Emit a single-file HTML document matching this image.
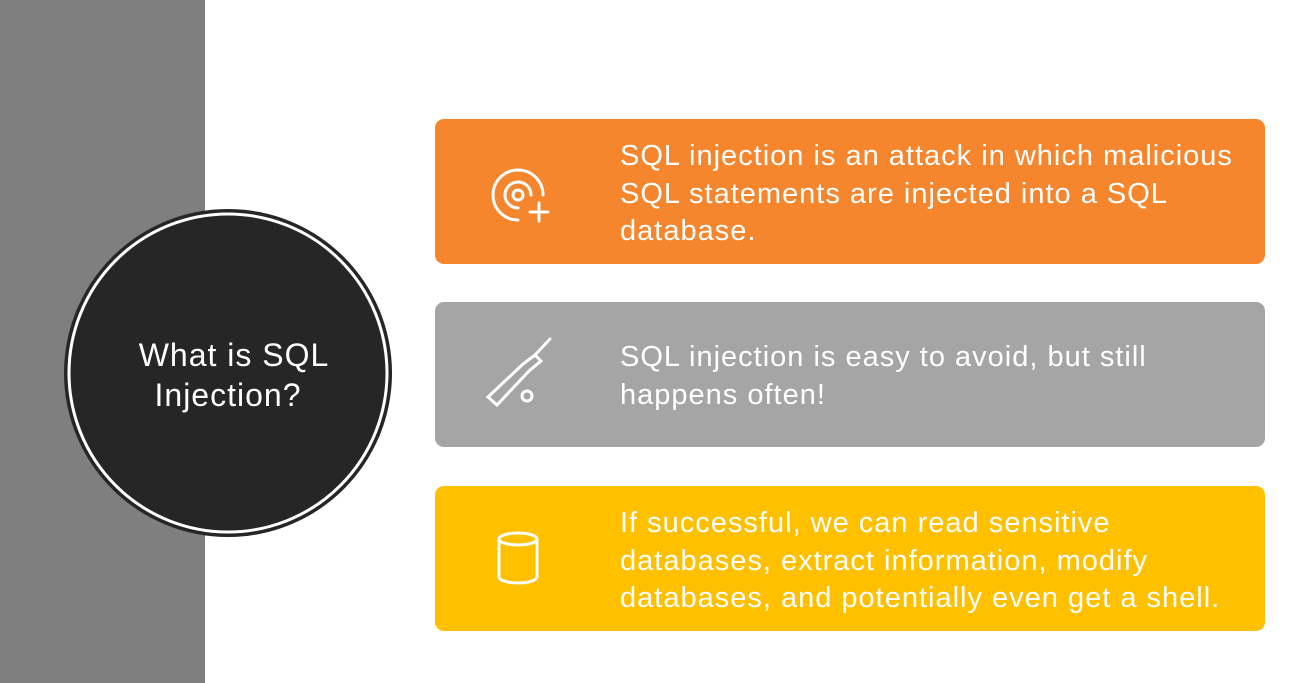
<!DOCTYPE html>
<html><head><style>
body{margin:0;width:1306px;height:683px;background:#fff;position:relative;overflow:hidden;font-family:"Liberation Sans",sans-serif}
.side{position:absolute;left:0;top:0;width:205px;height:683px;background:#7f7f7f}
.box{position:absolute;left:435px;width:830px;height:145px;border-radius:9px}
.t{position:absolute;left:185px;color:#fff;font-size:29px;letter-spacing:1px;line-height:37.5px;white-space:nowrap}
svg.i{position:absolute;left:36px;top:29px}
</style></head><body>
<div class="side"></div>
<svg style="position:absolute;left:0;top:0" width="420" height="683">
<circle cx="228" cy="373" r="164" fill="#262626"/>
<circle cx="228" cy="373" r="159" fill="none" stroke="#fff" stroke-width="3"/>
<text x="234" y="366" fill="#fff" font-size="32" letter-spacing="1" text-anchor="middle" font-family="Liberation Sans">What is SQL</text>
<text x="228" y="406" fill="#fff" font-size="32" letter-spacing="1" text-anchor="middle" font-family="Liberation Sans">Injection?</text>
</svg>
<div class="box" style="top:119px;background:#f5862e">
<svg class="i" width="90" height="80"><g fill="none" stroke="#fff" stroke-width="3" stroke-linecap="round">
<circle cx="47" cy="47" r="5"/><path d="M60 47 A13 13 0 1 0 47 60"/><path d="M72 47 A25 25 0 1 0 47 72"/><path d="M68 55v18M59 64h18"/></g></svg>
<div class="t" style="top:19px">SQL injection is an attack in which malicious<br>SQL statements are injected into a SQL<br>database.</div></div>
<div class="box" style="top:302px;background:#a5a5a5">
<svg class="i" width="90" height="80" style="top:32px"><g fill="none" stroke="#fff" stroke-width="3" stroke-linecap="round">
<path d="M79 5 L64 21"/><path d="M64 21 L70 27 L58 37 L26 71 L17 63 L52 30 Z"/><circle cx="56" cy="62" r="5"/></g></svg>
<div class="t" style="top:37px">SQL injection is easy to avoid, but still<br>happens often!</div></div>
<div class="box" style="top:486px;background:#ffc000">
<svg class="i" width="90" height="80"><g fill="none" stroke="#fff" stroke-width="3">
<ellipse cx="47" cy="24" rx="19" ry="6"/><path d="M28 24 V62 A19 6 0 0 0 66 62 V24"/></g></svg>
<div class="t" style="top:19px">If successful, we can read sensitive<br>databases, extract information, modify<br>databases, and potentially even get a shell.</div></div>
</body></html>
